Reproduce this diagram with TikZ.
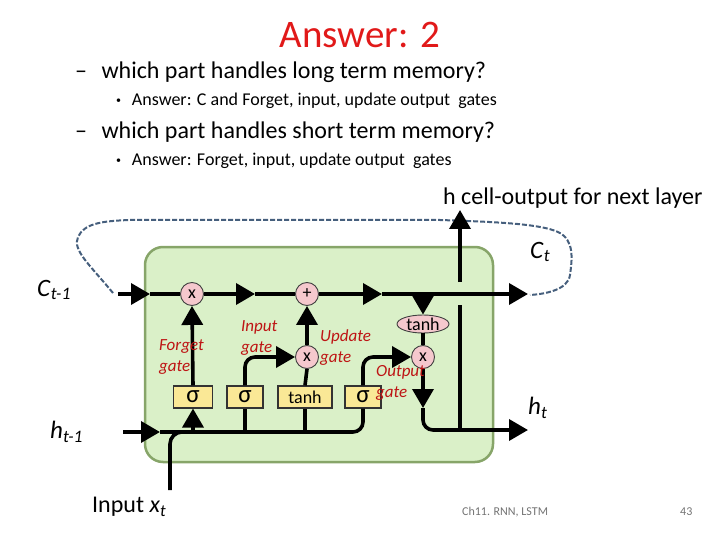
\documentclass[tikz,border=0pt]{standalone}
\usepackage{fontspec}
\setmainfont{Carlito}
\usepackage{tikz}
\usetikzlibrary{arrows.meta, positioning, calc, shapes.geometric}

\definecolor{cellGreen}{RGB}{218,240,200}
\definecolor{cellEdge}{RGB}{135,165,105}
\definecolor{opPink}{RGB}{245,200,205}
\definecolor{gateYel}{RGB}{250,232,150}
\definecolor{loopBlue}{RGB}{70,95,125}
\definecolor{gateRed}{RGB}{190,20,20}
\definecolor{titleRed}{RGB}{225,25,25}

\newcommand{\lstmvar}[2]{\textit{#1}\textsubscript{\textit{#2}}}
\newcommand{\smallbullet}{\raisebox{0.15em}{\fontsize{10}{10}\selectfont •}}

\begin{document}
\begin{tikzpicture}[x=1pt, y=-1pt,
    wire/.style={line width=3.6pt, black},
    arr/.style={wire, -{Triangle[length=19pt, width=21pt]}},
    op/.style={circle, draw=black!75, fill=opPink, line width=0.9pt,
        minimum size=23pt, inner sep=0pt, font=\fontsize{18}{18}\selectfont},
    gatebox/.style={rectangle, draw=black!80, fill=gateYel, line width=1.1pt,
        minimum height=22pt, inner sep=0pt, font=\fontsize{25}{25}\selectfont},
    glabel/.style={anchor=west, align=left, text=gateRed, inner sep=0pt,
        font=\fontsize{17}{21}\selectfont\itshape},
    qline/.style={anchor=west, inner sep=0pt, font=\fontsize{24}{28}\selectfont},
    aline/.style={anchor=west, inner sep=0pt, font=\fontsize{18}{21}\selectfont},
    sym/.style={anchor=west, inner sep=0pt, font=\fontsize{25}{29}\selectfont},
    foot/.style={anchor=west, inner sep=0pt, text=black!55, font=\fontsize{12}{14}\selectfont},
    loopline/.style={draw=loopBlue, line width=2pt, dash pattern=on 5pt off 2pt}
]
    \useasboundingbox (0,0) rectangle (720,540);

    % slide text
    \node[text=titleRed, font=\fontsize{39}{44}\selectfont] (ttl) at (360,35) {Answer: 2};
    \node[qline] (q1) at (75,72) {–\hspace{0.6em}which part handles long term memory?};
    \node[aline] (a1) at (116,101) {\smallbullet\hspace{0.6em}Answer: C and Forget, input, update output\ \ gates};
    \node[qline] (q2) at (75,132) {–\hspace{0.6em}which part handles short term memory?};
    \node[aline] (a2) at (116,161) {\smallbullet\hspace{0.6em}Answer: Forget, input, update output\ \ gates};

    % the cell
    \node[draw=cellEdge, fill=cellGreen, line width=2.5pt, rounded corners=18pt,
        minimum width=348pt, minimum height=215pt] (cell) at (319,354.5) {};

    % recurrence loop
    \coordinate (lpS) at (113,293);
    \coordinate (lpE) at (530,295);
    \draw[loopline] (lpS) .. controls (90,265) and (72,250) .. (78,237)
        .. controls (84,224) and (100,221) .. (130,220) -- (440,220)
        .. controls (500,222) and (540,224) .. (558,232)
        .. controls (575,240) and (572,260) .. (570,275)
        .. controls (568,290) and (545,294) .. (lpE);

    % operations
    \node[op] (mulF) at (192,294) {x};
    \node[op] (add) at (307,294) {+};
    \node[op] (mulI) at (307,357) {x};
    \node[op] (mulO) at (423,357) {x};
    \node[ellipse, draw=black!75, fill=opPink, line width=0.9pt, minimum width=52pt,
        minimum height=18pt, inner sep=0pt, font=\fontsize{18}{18}\selectfont] (tanhC) at (423,324) {tanh};

    \node[gatebox, minimum width=39pt] (sigF) at (193,397) {σ};
    \node[gatebox, minimum width=36pt] (sigI) at (245,397) {σ};
    \node[gatebox, minimum width=54pt, font=\fontsize{18}{18}\selectfont] (tanhU) at (305,397) {tanh};
    \node[gatebox, minimum width=36pt] (sigO) at (363,397) {σ};

    % cell state line
    \coordinate (cin) at (118,294);
    \coordinate (c1) at (150,294);
    \coordinate (c2) at (255,294);
    \coordinate (c3) at (382,294);
    \coordinate (cout) at (528,294);
    \draw[arr] (cin) -- (c1);
    \draw[wire] (c1) -- (mulF.west);
    \draw[arr] (mulF.east) -- (c2);
    \draw[wire] (c2) -- (add.west);
    \draw[arr] (add.east) -- (c3);
    \draw[arr] (c3) -- (cout);
    \draw[arr] (tanhC |- cin) -- (tanhC.north);
    \draw[wire] (tanhC.south) -- (mulO.north);

    % input bus
    \coordinate (hin) at (123,432);
    \coordinate (h1) at (160,432);
    \coordinate (xin) at (170,490);
    \draw[arr] (hin) -- (h1);
    \draw[wire, rounded corners=10pt] (h1) -| (sigO.south);
    \draw[wire, rounded corners=12pt] (xin) |- (sigF |- h1);
    \draw[arr] (sigF |- h1) -- (sigF.south);
    \draw[wire] (sigI |- h1) -- (sigI.south);
    \draw[wire] (tanhU |- h1) -- (tanhU.south);

    % gates
    \draw[arr] (sigF.north) -- (mulF.south);
    \draw[arr, rounded corners=10pt] (sigI.north) |- (mulI.west);
    \draw[wire] (tanhU.north) -- (mulI.south);
    \draw[arr] (mulI.north) -- (add.south);
    \draw[arr, rounded corners=10pt] (sigO.north) |- (mulO.west);

    % output
    \coordinate (o1) at (423,408);
    \coordinate (hout) at (528,430);
    \coordinate (hj) at (460,430);
    \coordinate (hg1) at (460,305);
    \coordinate (hg2) at (460,282);
    \coordinate (hup) at (460,210);
    \draw[arr] (mulO.south) -- (o1);
    \draw[arr, rounded corners=10pt] (o1) |- (hout);
    \draw[wire] (hj) -- (hg1);
    \draw[arr] (hg2) -- (hup);

    % gate labels
    \node[glabel] (lf) at (159,357.5) {Forget\\gate};
    \node[glabel] (li) at (241,338.5) {Input\\gate};
    \node[glabel] (lu) at (320,347.5) {Update\\gate};
    \node[glabel] (lo) at (376,383) {Output\\gate};

    % signal names
    \node[sym] (nC0) at (37,290) {\lstmvar{C}{t-1}};
    \node[sym] (nC1) at (530,252) {\lstmvar{C}{t}};
    \node[sym] (nh0) at (50,432) {\lstmvar{h}{t-1}};
    \node[sym] (nh1) at (528,408) {\lstmvar{h}{t}};
    \node[sym, font=\fontsize{24}{28}\selectfont] (nx) at (92,507) {Input \lstmvar{x}{t}};
    \node[anchor=west, inner sep=0pt, font=\fontsize{24}{28}\selectfont] (nhn) at (443,198) {h cell-output for next layer};

    % footer
    \node[foot] (ft) at (462,512) {Ch11. RNN, LSTM};
    \node[foot] (pg) at (680,512) {43};
\end{tikzpicture}
\end{document}
